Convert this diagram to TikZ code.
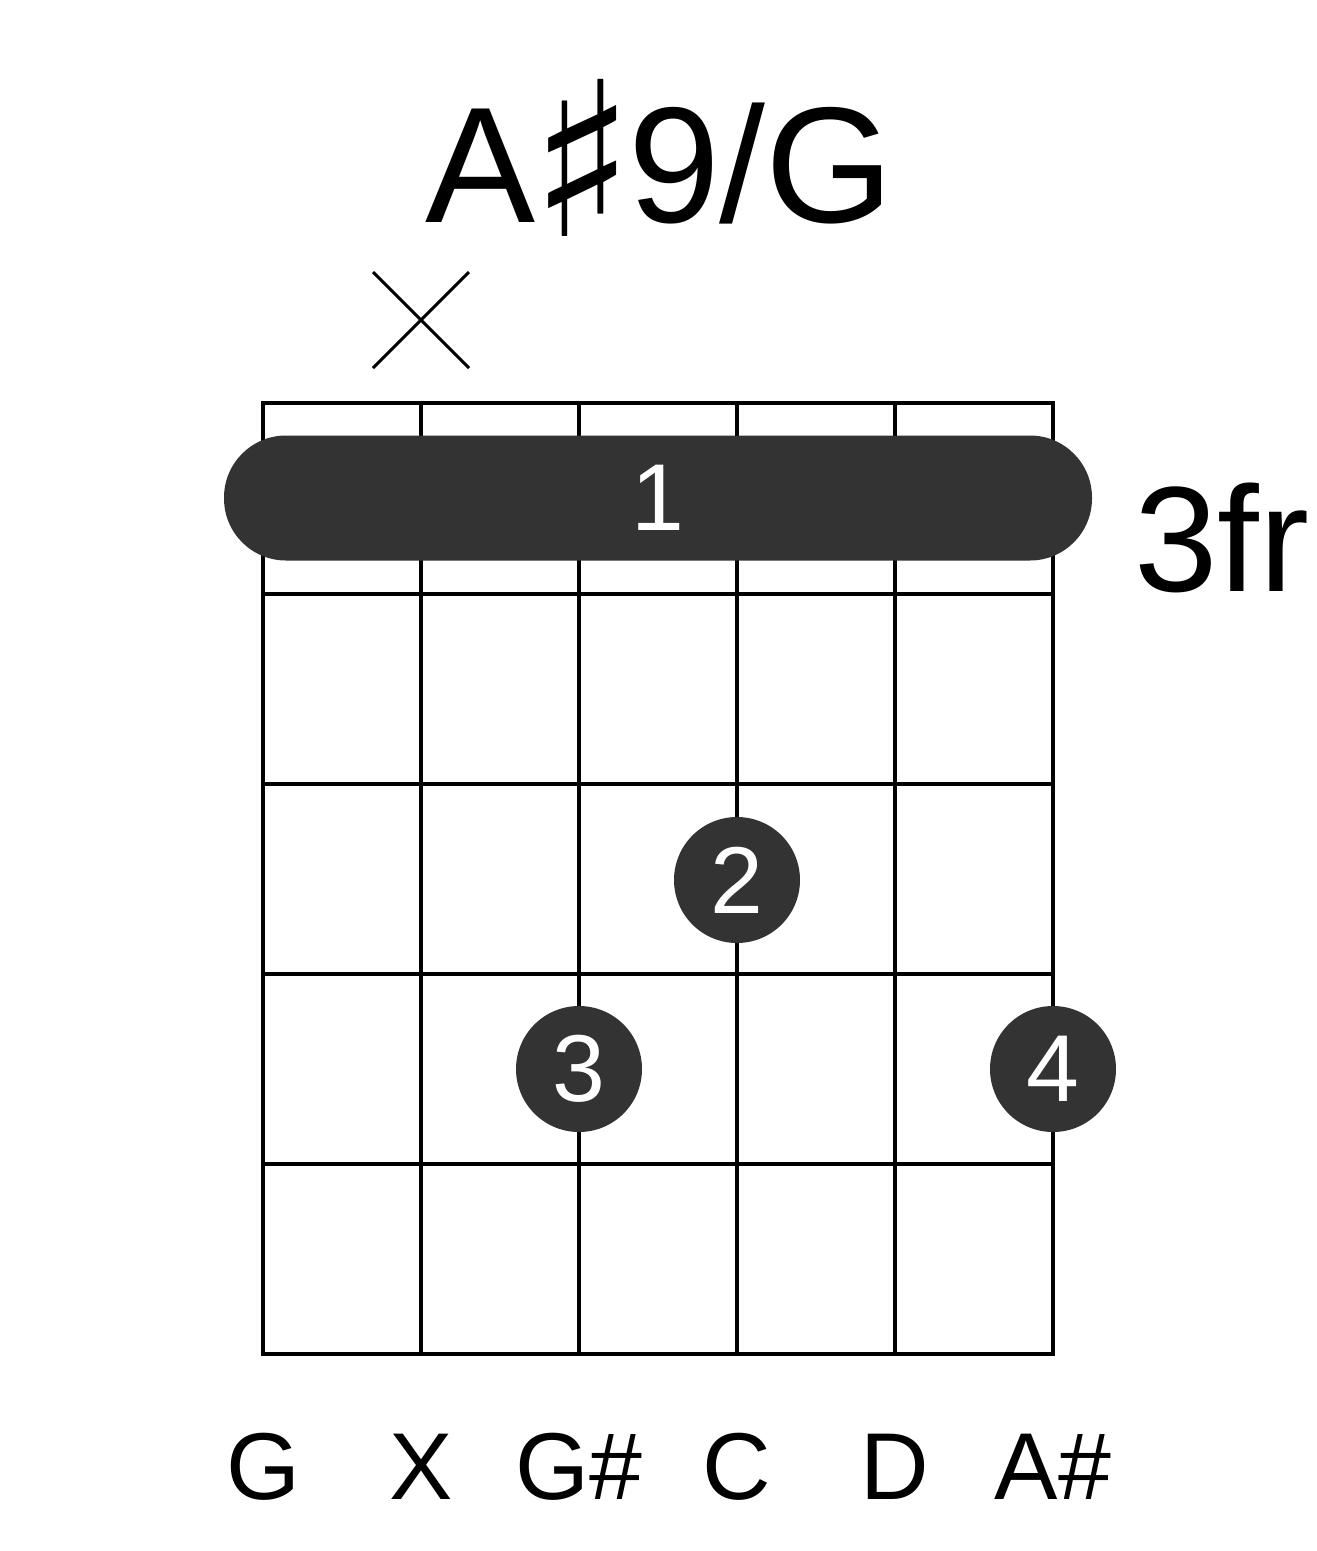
\documentclass[tikz,border=0pt]{standalone}
\usepackage{fontspec}
\setmainfont{Liberation Sans}
\newfontfamily\symfont{DejaVu Sans}
\usetikzlibrary{positioning}
\definecolor{dotgray}{HTML}{333333}

\begin{document}
\begin{tikzpicture}[x=1pt, y=-1pt, line width=4pt]
\tikzset{fing/.style={circle, fill=dotgray, minimum size=126pt, inner sep=0pt, text=white, font=\fontsize{95}{95}\selectfont},
  strlab/.style={font=\fontsize{95}{95}\selectfont}}
\useasboundingbox (0,0) rectangle (1317,1551);

% grid
\foreach \s in {0,...,5} \draw (263+158*\s,403) -- (263+158*\s,1354);
\foreach \f/\yy in {0/403,1/594,2/784,3/974,4/1164,5/1354} \draw (261,\yy) -- (1055,\yy);

% barre and fingers
\node[fill=dotgray, rounded corners=62pt, minimum width=868pt, minimum height=125pt, inner sep=0pt,
  text=white, font=\fontsize{95}{95}\selectfont] (barre) at (658,498) {1};
\node[fing] (f2) at (737,880) {2};
\node[fing] (f3) at (579,1069) {3};
\node[fing] (f4) at (1053,1069) {4};

% muted string
\draw[line width=3pt] (373,272) -- (469,368) (469,272) -- (373,368);

% labels
\node[font=\fontsize{165}{165}\selectfont] (title) at (660,158) {A\kern-6pt\raisebox{-14pt}{\symfont\fontsize{215}{215}\selectfont ♯}\kern-6pt9/G};
\node[font=\fontsize{150}{150}\selectfont] (fret) at (1222,538) {3fr};
\foreach \n [count=\i from 0] in {G,X,G\#,C,D,A\#}
  \node[strlab] (s\i) at (263+158*\i,1467) {\n};
\end{tikzpicture}
\end{document}
